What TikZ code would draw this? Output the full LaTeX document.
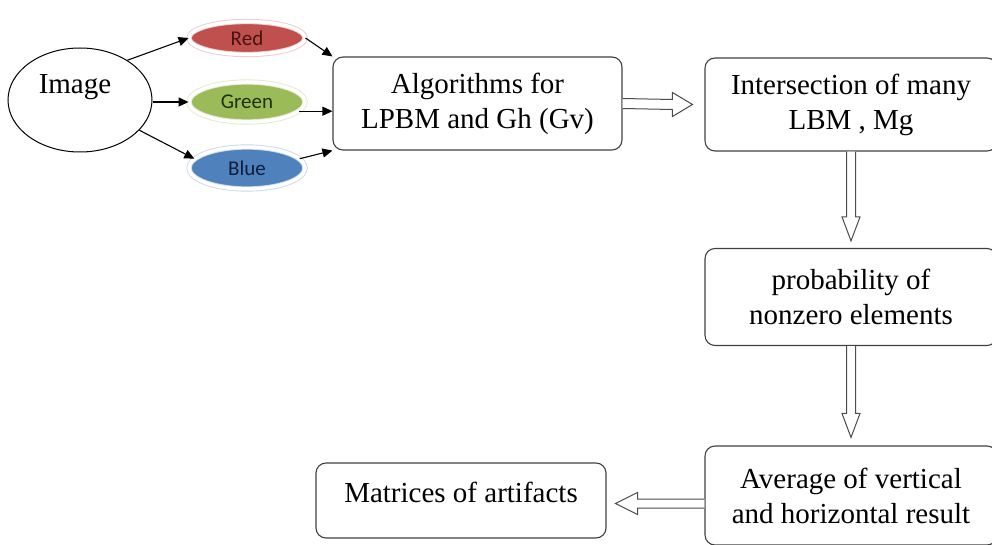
\documentclass[tikz,border=0pt]{standalone}
\usepackage{fontspec}
\setmainfont{Liberation Serif}
\newfontfamily\ellfont{Carlito}
\usetikzlibrary{calc,arrows.meta,shadows,shapes.geometric}
\definecolor{ored}{HTML}{C0504D}
\definecolor{ogreen}{HTML}{9BBB59}
\definecolor{oblue}{HTML}{4F81BD}
\definecolor{tred}{HTML}{4A1212}
\definecolor{tgreen}{HTML}{1E3008}
\definecolor{tblue}{HTML}{0F1E3C}
\begin{document}
\begin{tikzpicture}[x=1pt,y=-1pt,
  box/.style={draw=black!75, line width=1.1pt, rounded corners=10pt, align=center,
    font=\fontsize{29}{35}\selectfont, inner sep=0pt},
  colell/.style={ellipse, minimum width=116pt, inner sep=0pt, fill=#1,
    draw=#1!30, double=white, double distance=3.5pt, line width=0.9pt,
    drop shadow={opacity=0.25, shadow xshift=1pt, shadow yshift=-2pt},
    font=\ellfont\fontsize{21}{24}\selectfont},
  conn/.style={-{Triangle[length=10pt,width=9pt]}, line width=1.1pt, black},
  hollow/.style={draw=black!70, line width=1pt, fill=white, line join=miter}]
\useasboundingbox (0,0) rectangle (992,545);
\clip (0,0) rectangle (992,545);

% Image ellipse
\node[ellipse, draw=black, line width=1pt, minimum width=144pt, minimum height=104pt, inner sep=0pt] (img) at (80,100) {};
\node[font=\fontsize{29}{35}\selectfont, inner sep=0pt] (imgt) at ($(img.center)+(-5,-13)$) {Image};

% colour ellipses
\node[colell=ored, minimum height=33pt, text=tred] (red) at (247,38) {Red};
\node[colell=ogreen, minimum height=40pt, text=tgreen] (green) at (247,102) {Green};
\node[colell=oblue, minimum height=42pt, text=tblue] (blue) at (247,168) {Blue};

% boxes
\node[box, minimum width=289pt, minimum height=93pt] (algo) at (477.5,103.5) {Algorithms for\\LPBM and Gh (Gv)};
\node[box, minimum width=292pt, minimum height=93pt] (inter) at (851,104.5) {Intersection of many\\LBM , Mg};
\node[box, minimum width=292pt, minimum height=97pt] (prob) at (851,297) {probability of\\nonzero elements};
\node[box, minimum width=292pt, minimum height=99pt] (avg) at (851,495.5) {Average of vertical\\and horizontal result};
\node[box, minimum width=290pt, minimum height=75pt, text height=19.7pt, text depth=16pt] (mat) at (461,500.5) {Matrices of artifacts};

% thin connectors
\draw[conn] (img.40) -- (red.west);
\draw[conn] (img.east |- green.west) -- (green.west);
\draw[conn] (img.-27) -- (blue.170);
\draw[conn] (red.east) -- (algo.north west);
\draw[conn] (green.-10) -- (green.-10 -| algo.west);
\draw[conn] (blue.10) -- (algo.south west);

% hollow connectors
\coordinate (t1) at ($(inter.west)+(-12,0)$);
\draw[hollow] ($(algo.east)+(0,-5)$) -- ($(t1)+(-20,-5)$) -- ($(t1)+(-20,-12)$) -- (t1)
  -- ($(t1)+(-20,12)$) -- ($(t1)+(-20,5)$) -- ($(algo.east)+(0,5)$);

\coordinate (t2) at ($(prob.north)+(0,-7)$);
\draw[hollow] ($(inter.south)+(-4.5,0)$) -- ($(t2)+(-4.5,-24)$) -- ($(t2)+(-9,-24)$) -- (t2)
  -- ($(t2)+(9,-24)$) -- ($(t2)+(4.5,-24)$) -- ($(inter.south)+(4.5,0)$);

\coordinate (t3) at ($(avg.north)+(0,-8)$);
\draw[hollow] ($(prob.south)+(-4.5,0)$) -- ($(t3)+(-4.5,-24)$) -- ($(t3)+(-9,-24)$) -- (t3)
  -- ($(t3)+(9,-24)$) -- ($(t3)+(4.5,-24)$) -- ($(prob.south)+(4.5,0)$);

\coordinate (s4) at (avg.west |- mat.east);
\coordinate (t4) at ($(mat.east)+(9,3)$);
\draw[hollow] ($(s4)+(0,-1.5)$) -- ($(t4)+(22,-4.5)$) -- ($(t4)+(22,-11)$) -- (t4)
  -- ($(t4)+(22,11)$) -- ($(t4)+(22,4.5)$) -- ($(s4)+(0,7.5)$);
\end{tikzpicture}
\end{document}
